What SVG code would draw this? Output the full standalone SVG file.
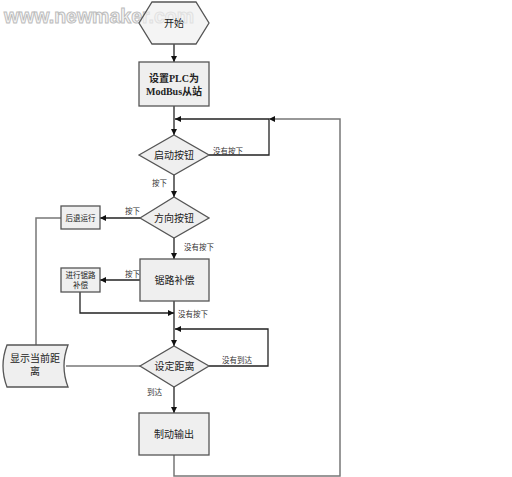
<svg xmlns="http://www.w3.org/2000/svg" width="512" height="477" viewBox="0 0 512 477">
<style>
.shape{fill:#efefef;stroke:#555;stroke-width:1.3}
.t{font-family:"Liberation Serif","Noto Sans CJK SC",serif;fill:#222;text-anchor:middle}
.m{font-size:10px}
.b{font-size:10px;font-weight:bold}
.s{font-size:7.5px}
.lb{font-family:"Liberation Serif","Noto Sans CJK SC",serif;font-size:7.5px;fill:#333}
.c{fill:none;stroke:#222;stroke-width:1.3}
.g{fill:none;stroke:#777;stroke-width:1.5}
</style>
<defs>
<marker id="ar" viewBox="0 0 10 10" refX="10" refY="5" markerWidth="6" markerHeight="6" markerUnits="userSpaceOnUse" orient="auto">
<path d="M0,0 L10,5 L0,10 z" fill="#111"/>
</marker>
</defs>
<rect width="512" height="477" fill="#fff"/>
<text id="watermark" x="4" y="23" font-family="'Liberation Sans',sans-serif" font-size="20" font-weight="bold" fill="#f6f6f6" stroke="#b5b5b5" stroke-width="1" opacity="0.9" textLength="190" lengthAdjust="spacingAndGlyphs">www.newmaker.com</text>
<g id="connectors">
<path class="c" d="M174,44 V62" marker-end="url(#ar)"/>
<path class="c" d="M174,106 V135" marker-end="url(#ar)"/>
<path class="c" d="M209,155 H269 V119 H175" marker-end="url(#ar)"/>
<path class="g" d="M174,455 V476 H340 V119 H269" marker-end="url(#ar)"/>
<path class="c" d="M174,175 V197" marker-end="url(#ar)"/>
<path class="c" d="M140,218 H100" marker-end="url(#ar)"/>
<path class="g" d="M61,218 H36 V345"/>
<path class="c" d="M174,238 V259" marker-end="url(#ar)"/>
<path class="c" d="M140,280 H100" marker-end="url(#ar)"/>
<path class="c" d="M80,292 V313 H174" marker-end="url(#ar)"/>
<path class="c" d="M174,301 V346" marker-end="url(#ar)"/>
<path class="c" d="M209,366 H268 V329 H175" marker-end="url(#ar)"/>
<path class="g" d="M140,366 H66"/>
<path class="c" d="M174,387 V413" marker-end="url(#ar)"/>
<text class="lb" x="213" y="154">没有按下</text>
<text class="lb" x="152" y="186">按下</text>
<text class="lb" x="125" y="214">按下</text>
<text class="lb" x="184" y="250">没有按下</text>
<text class="lb" x="125" y="277">按下</text>
<text class="lb" x="178" y="317">没有按下</text>
<text class="lb" x="222" y="363">没有到达</text>
<text class="lb" x="147" y="395">到达</text>
</g>
<g id="start">
<polygon class="shape" style="fill-opacity:0.7" points="139,23 152,2 196,2 209,23 196,44 152,44"/>
<text class="t m" x="174" y="27">开始</text>
</g>
<g id="setplc">
<rect class="shape" x="139" y="62" width="70" height="44"/>
<text class="t b" x="174" y="82">设置PLC为</text>
<text class="t b" x="174" y="95">ModBus从站</text>
</g>
<g id="startbtn">
<polygon class="shape" points="139,155 174,135 209,155 174,175"/>
<text class="t m" x="174" y="159">启动按钮</text>
</g>
<g id="dirbtn">
<polygon class="shape" points="140,218 174,197 209,218 174,238"/>
<text class="t m" x="174" y="222">方向按钮</text>
</g>
<g id="back">
<rect class="shape" x="61" y="206" width="39" height="23"/>
<text class="t s" x="80.5" y="220.5">后退运行</text>
</g>
<g id="comp">
<rect class="shape" x="140" y="259" width="69" height="42"/>
<text class="t m" x="174.5" y="284">锯路补偿</text>
</g>
<g id="docomp">
<rect class="shape" x="61" y="268" width="39" height="24"/>
<text class="t s" x="80.5" y="278">进行锯路</text>
<text class="t s" x="80.5" y="288">补偿</text>
</g>
<g id="setdist">
<polygon class="shape" points="140,366 174,346 209,366 174,387"/>
<text class="t m" x="174.5" y="370">设定距离</text>
</g>
<g id="display">
<path class="shape" d="M7,345 H68 Q60,366 68,387 H7 Q-1,366 7,345 Z"/>
<text class="t m" x="35" y="362">显示当前距</text>
<text class="t m" x="35" y="375">离</text>
</g>
<g id="brake">
<rect class="shape" x="139" y="413" width="70" height="42"/>
<text class="t m" x="174" y="438">制动输出</text>
</g>
</svg>
